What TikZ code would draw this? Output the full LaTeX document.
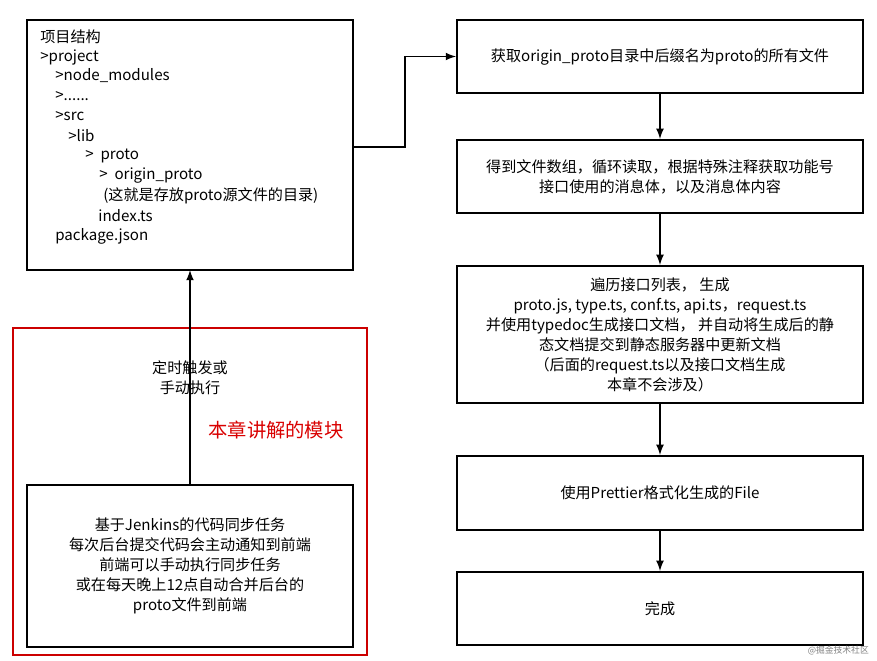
\documentclass[tikz,border=0pt]{standalone}
\usepackage{fontspec}
\setmainfont{Noto Sans CJK SC}
\usetikzlibrary{positioning}
\tikzset{
  box/.style={draw, line width=1.2pt, inner sep=0pt},
  txt/.style={font=\fontsize{8.6pt}{11.4pt}\selectfont, align=center},
  arr/.style={->, >=latex, line width=1pt}
}
\newcommand{\sixdots}{......}
\begin{document}
\begin{tikzpicture}[x=0.02cm, y=-0.02cm]
  \useasboundingbox (0,0) rectangle (877,661);
  % left side
  \draw[box] (27,20) rectangle (353,270);
  \node[box, minimum width=326*0.02cm, minimum height=162*0.02cm, txt] (sync) at (190,566)
    {基于Jenkins的代码同步任务\\每次后台提交代码会主动通知到前端\\前端可以手动执行同步任务\\或在每天晚上12点自动合并后台的\\proto文件到前端};
  \coordinate (treebot) at (190,270);
  \coordinate (treeright) at (353,147);
  \draw[red!80!black, line width=1pt] (13,328) rectangle (367,655);
  \foreach \t/\x/\y/\n in {{项目结构}/40/37/l0, {>project}/40/57/l1, {>node\_modules}/55/76/l2,
      {>\sixdots}/55/96/l3, {>src}/55/116/l4, {>lib}/68/136/l5, {> \ proto}/85/156/l6,
      {> \ origin\_proto}/99/176/l7, {(这就是存放proto源文件的目录)}/103/196/l8,
      {index.ts}/98/216/l9, {package.json}/55/236/l10}
    \node[txt, anchor=west, inner sep=0pt] (\n) at (\x,\y) {\t};
  \draw[arr] (sync.north) -- (treebot);
  \node[txt] (trigger) at (190,378) {定时触发或\\手动执行};
  \node[txt, text=red!85!black, font=\fontsize{11pt}{13pt}\selectfont] (module) at (276,430) {本章讲解的模块};
  % right side
  \tikzset{rbox/.style={box, txt, minimum width=406*0.02cm}}
  \node[rbox, minimum height=73*0.02cm] (read) at (660,56.5) {获取origin\_proto目录中后缀名为proto的所有文件};
  \node[rbox, minimum height=73*0.02cm] (parse) at (660,176.5) {得到文件数组，循环读取，根据特殊注释获取功能号\\接口使用的消息体，以及消息体内容};
  \node[rbox, minimum height=137*0.02cm] (gen) at (660,334.5) {遍历接口列表， 生成\\proto.js, type.ts, conf.ts, api.ts，request.ts\\并使用typedoc生成接口文档， 并自动将生成后的静\\态文档提交到静态服务器中更新文档\\（后面的request.ts以及接口文档生成\\本章不会涉及）};
  \node[rbox, minimum height=74*0.02cm] (fmt) at (660,493) {使用Prettier格式化生成的File};
  \node[rbox, minimum height=73*0.02cm] (done) at (660,608.5) {完成};
  \draw[arr] (treeright) -- (405,147) |- (read.west);
  \draw[arr] (read) -- (parse);
  \draw[arr] (parse) -- (gen);
  \draw[arr] (gen) -- (fmt);
  \draw[arr] (fmt) -- (done);
  \node[gray, font=\fontsize{5pt}{6pt}\selectfont, anchor=east] (mark) at (875,651) {@掘金技术社区};
\end{tikzpicture}
\end{document}
